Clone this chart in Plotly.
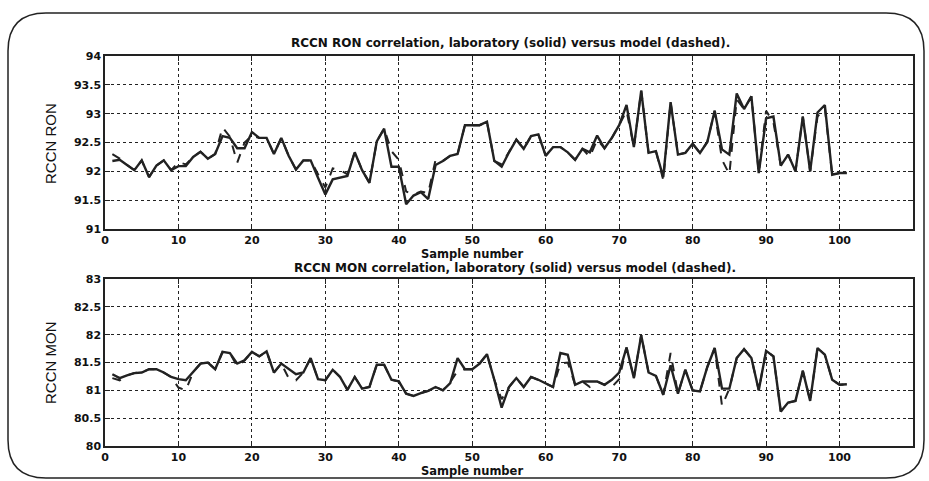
import plotly.graph_objects as go

samples = list(range(1, 102))

ron_lab = [92.18, 92.20, 92.11, 92.02, 92.19, 91.90, 92.10, 92.19, 92.02, 92.09,
           92.09, 92.25, 92.34, 92.22, 92.30, 92.61, 92.58, 92.40, 92.40, 92.68,
           92.58, 92.58, 92.30, 92.58, 92.27, 92.03, 92.19, 92.19, 91.89, 91.60,
           91.86, 91.89, 91.92, 92.33, 92.02, 91.80, 92.52, 92.74, 92.08, 92.08,
           91.43, 91.58, 91.64, 91.52, 92.11, 92.18, 92.27, 92.30, 92.80, 92.80,
           92.80, 92.86, 92.18, 92.08, 92.33, 92.55, 92.39, 92.61, 92.64, 92.27,
           92.42, 92.42, 92.33, 92.20, 92.39, 92.33, 92.62, 92.40, 92.58, 92.80,
           93.15, 92.42, 93.40, 92.32, 92.35, 91.90, 93.20, 92.29, 92.32, 92.48,
           92.32, 92.51, 93.05, 92.38, 92.29, 93.35, 93.08, 93.30, 91.97, 92.92,
           92.95, 92.10, 92.29, 92.00, 92.95, 92.00, 93.02, 93.15, 91.94, 91.97,
           91.97]

ron_model = [92.30, 92.22, 92.11, 92.02, 92.19, 91.90, 92.10, 92.19, 92.02, 92.16,
             92.12, 92.25, 92.34, 92.22, 92.30, 92.76, 92.60, 92.15, 92.50, 92.62,
             92.58, 92.58, 92.30, 92.58, 92.27, 92.03, 92.19, 92.19, 91.95, 91.72,
             92.05, 92.02, 91.95, 92.33, 92.02, 91.80, 92.52, 92.74, 92.35, 92.20,
             91.65, 91.60, 91.65, 91.62, 92.20, 92.18, 92.27, 92.30, 92.80, 92.80,
             92.80, 92.86, 92.18, 92.12, 92.33, 92.55, 92.39, 92.61, 92.64, 92.27,
             92.42, 92.42, 92.33, 92.20, 92.39, 92.25, 92.55, 92.40, 92.58, 92.80,
             93.05, 92.42, 93.40, 92.32, 92.35, 91.85, 93.20, 92.29, 92.32, 92.48,
             92.32, 92.51, 93.05, 92.20, 91.95, 93.25, 93.08, 93.30, 91.97, 93.05,
             92.85, 92.10, 92.29, 92.00, 92.95, 92.00, 92.95, 93.10, 91.94, 91.97,
             91.97]

mon_lab = [81.29, 81.22, 81.27, 81.31, 81.32, 81.38, 81.38, 81.32, 81.24, 81.20,
           81.18, 81.33, 81.48, 81.50, 81.38, 81.69, 81.67, 81.48, 81.54, 81.69,
           81.61, 81.70, 81.32, 81.48, 81.38, 81.29, 81.32, 81.58, 81.20, 81.18,
           81.37, 81.24, 81.01, 81.24, 81.03, 81.06, 81.46, 81.46, 81.19, 81.16,
           80.94, 80.90, 80.95, 80.99, 81.06, 81.00, 81.13, 81.58, 81.38, 81.38,
           81.48, 81.65, 81.19, 80.69, 81.06, 81.22, 81.06, 81.24, 81.19, 81.13,
           81.06, 81.67, 81.64, 81.10, 81.16, 81.16, 81.16, 81.10, 81.19, 81.32,
           81.77, 81.22, 81.99, 81.32, 81.26, 80.92, 81.45, 80.94, 81.37, 81.00,
           80.98, 81.42, 81.76, 81.03, 81.03, 81.58, 81.74, 81.58, 81.00, 81.71,
           81.61, 80.62, 80.78, 80.81, 81.35, 80.81, 81.76, 81.64, 81.19, 81.10,
           81.11]

mon_model = [81.22, 81.18, 81.27, 81.31, 81.32, 81.38, 81.38, 81.32, 81.24, 81.05,
             81.00, 81.33, 81.48, 81.50, 81.38, 81.69, 81.67, 81.43, 81.54, 81.69,
             81.61, 81.70, 81.32, 81.48, 81.22, 81.18, 81.32, 81.58, 81.20, 81.18,
             81.37, 81.24, 81.01, 81.24, 81.03, 81.06, 81.46, 81.46, 81.19, 81.16,
             80.94, 80.90, 80.95, 80.99, 81.06, 81.00, 81.15, 81.35, 81.38, 81.38,
             81.48, 81.65, 81.19, 80.84, 81.06, 81.22, 81.06, 81.24, 81.19, 81.13,
             81.06, 81.48, 81.50, 81.10, 81.16, 81.06, 81.16, 81.10, 81.06, 81.20,
             81.77, 81.22, 81.99, 81.32, 81.26, 80.92, 81.67, 80.94, 81.37, 81.00,
             80.98, 81.42, 81.76, 80.72, 81.03, 81.58, 81.74, 81.58, 81.00, 81.71,
             81.61, 80.62, 80.78, 80.81, 81.35, 80.81, 81.76, 81.64, 81.19, 81.10,
             81.11]

x_ticks = [0, 10, 20, 30, 40, 50, 60, 70, 80, 90, 100]
ron_ticks = [91, 91.5, 92, 92.5, 93, 93.5, 94]
mon_ticks = [80, 80.5, 81, 81.5, 82, 82.5, 83]
ron_title = "RCCN RON correlation, laboratory (solid) versus model (dashed)."
mon_title = "RCCN MON correlation, laboratory (solid) versus model (dashed)."

W, H = 929, 481
L, R, T, B = 105, 913, 56, 446


def px(x):
    return (x - L) / (R - L)


def py(y):
    return 1 - (y - T) / (B - T)


top_dom = [py(229), 1]
bot_dom = [0, py(279)]

fig = go.Figure()
line_col = "#222222"
fig.add_trace(go.Scatter(x=samples, y=ron_model, mode="lines", xaxis="x", yaxis="y",
                         line=dict(color=line_col, width=2, dash="dash")))
fig.add_trace(go.Scatter(x=samples, y=ron_lab, mode="lines", xaxis="x", yaxis="y",
                         line=dict(color=line_col, width=2.4)))
fig.add_trace(go.Scatter(x=samples, y=mon_model, mode="lines", xaxis="x2", yaxis="y2",
                         line=dict(color=line_col, width=2, dash="dash")))
fig.add_trace(go.Scatter(x=samples, y=mon_lab, mode="lines", xaxis="x2", yaxis="y2",
                         line=dict(color=line_col, width=2.4)))

bold_family = "DejaVu Sans, Verdana, sans-serif"
tick_font = dict(family=bold_family, size=11, color="#111", weight="bold")
common_x = dict(range=[0, 110], tickvals=x_ticks, showgrid=True, gridcolor="#222",
                griddash="dot", gridwidth=1, showline=True, linecolor="#222",
                linewidth=1.5, mirror="allticks", ticks="inside", ticklen=5,
                tickcolor="#222", tickfont=tick_font, zeroline=False)
common_y = dict(showgrid=True, gridcolor="#222", griddash="dot", gridwidth=1,
                showline=True, linecolor="#222", linewidth=1.5, mirror="allticks",
                ticks="inside", ticklen=5, tickcolor="#222", tickfont=tick_font,
                zeroline=False)

fig.update_layout(
    width=W, height=H,
    margin=dict(l=L, r=W - R, t=T, b=H - B),
    paper_bgcolor="white", plot_bgcolor="white",
    showlegend=False,
    xaxis=dict(domain=[0, 1], anchor="y", **common_x),
    yaxis=dict(domain=top_dom, anchor="x", range=[91, 94], tickvals=ron_ticks,
               ticktext=["91", "91.5", "92", "92.5", "93", "93.5", "94"], **common_y),
    xaxis2=dict(domain=[0, 1], anchor="y2", **common_x),
    yaxis2=dict(domain=bot_dom, anchor="x2", range=[80, 83], tickvals=mon_ticks,
                ticktext=["80", "80.5", "81", "81.5", "82", "82.5", "83"], **common_y),
)

title_font = dict(family=bold_family, size=12, color="#111", weight="bold")
lab_font = dict(family=bold_family, size=11.5, color="#111", weight="bold")
ylab_font = dict(family="Liberation Sans Narrow, Arial Narrow, Liberation Sans, sans-serif",
                 size=15, color="#111")

annots = [
    dict(text=ron_title, x=px(510), y=py(43), font=title_font),
    dict(text=mon_title, x=px(515), y=py(268), font=title_font),
    dict(text="Sample number", x=px(472), y=py(254), font=lab_font),
    dict(text="Sample number", x=px(472), y=py(471), font=lab_font),
    dict(text="RCCN RON", x=px(50), y=py(143), font=ylab_font, textangle=-90),
    dict(text="RCCN MON", x=px(50), y=py(362), font=ylab_font, textangle=-90),
]
for a in annots:
    fig.add_annotation(xref="paper", yref="paper", showarrow=False, borderpad=0,
                       xanchor="center", yanchor="middle", **a)

# rounded outer frame
x0, x1, y0, y1, r = 8, 924, 13, 478, 38
path = (f"M {px(x0)},{py(y0 + r)} "
        f"Q {px(x0)},{py(y0)} {px(x0 + r)},{py(y0)} "
        f"L {px(x1 - r)},{py(y0)} "
        f"Q {px(x1)},{py(y0)} {px(x1)},{py(y0 + r)} "
        f"L {px(x1)},{py(y1 - r)} "
        f"Q {px(x1)},{py(y1)} {px(x1 - r)},{py(y1)} "
        f"L {px(x0 + r)},{py(y1)} "
        f"Q {px(x0)},{py(y1)} {px(x0)},{py(y1 - r)} Z")
fig.add_shape(type="path", path=path, xref="paper", yref="paper",
              line=dict(color="#222", width=1.5), layer="below")

fig.write_html("out.html")
